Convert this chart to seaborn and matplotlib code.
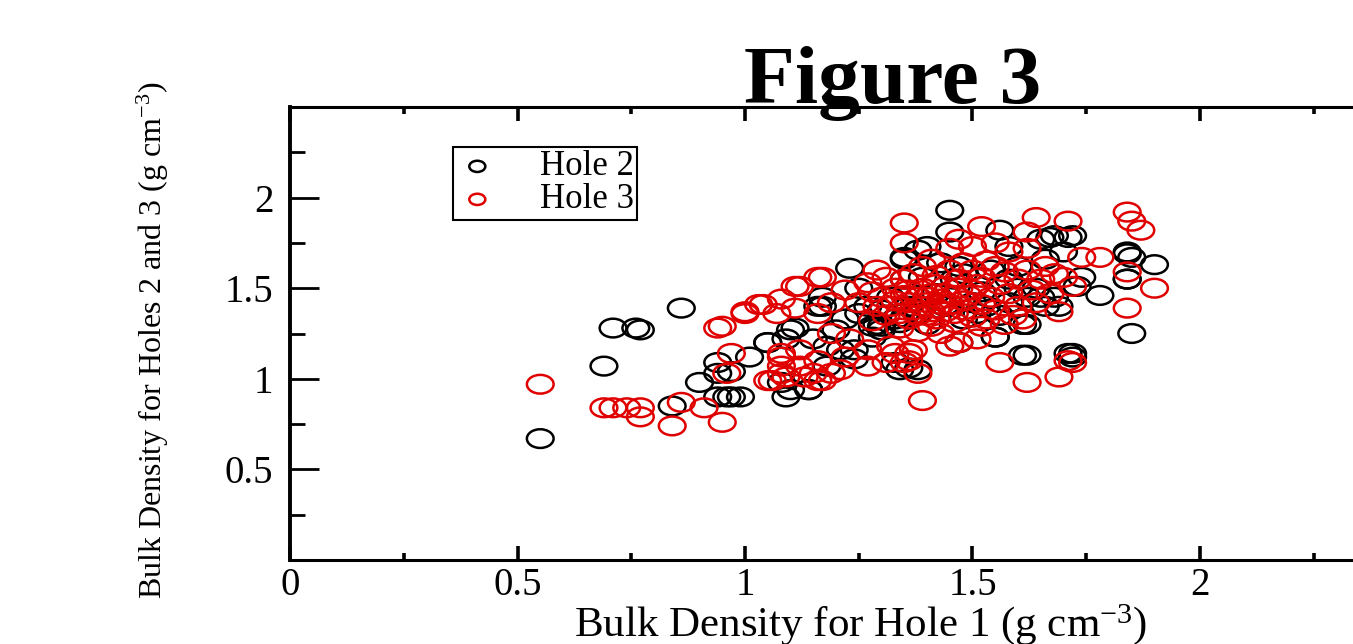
import numpy as np
import pandas as pd
import matplotlib
matplotlib.use("Agg")
import matplotlib.pyplot as plt
import seaborn as sns
from matplotlib.path import Path
from matplotlib.ticker import MultipleLocator, FixedLocator

# ---------------- data ----------------
hole2_x = [0.55, 0.69, 0.71, 0.76, 0.77, 0.86, 0.90, 0.94, 0.94, 0.97, 0.94, 0.96, 0.97, 0.84,
           1.05, 1.10, 1.09, 1.14, 1.17, 1.17, 1.23, 1.25, 1.30, 1.33, 1.35, 1.45, 1.45, 1.24, 1.34,
           1.56, 1.68, 1.72, 1.58, 1.40, 1.84, 1.85, 1.90, 1.84, 1.74, 1.78, 1.68, 1.69, 1.62, 1.85,
           1.55, 1.62, 1.72, 1.72, 1.36, 1.16, 1.22, 1.29, 1.28, 1.30, 1.28, 1.11, 1.09, 1.05, 1.01,
           1.08, 1.10, 1.14, 1.18, 1.21, 1.24, 1.33, 0.99, 1.35, 1.38, 1.65, 1.47, 1.65, 1.66, 1.61,
           1.55, 1.61, 1.35, 1.47, 1.38, 1.51, 1.58, 1.67, 1.71, 1.84, 1.84, 1.73, 1.71,
           1.32, 1.36, 1.38, 1.40, 1.42, 1.44, 1.46, 1.48, 1.50, 1.52, 1.54, 1.56, 1.58, 1.60, 1.62,
           1.35, 1.39, 1.30, 1.34, 1.43, 1.48, 1.53, 1.64, 1.66, 1.70, 1.60, 1.27, 1.25, 1.20, 1.15, 1.18]
hole2_y = [0.67, 1.07, 1.28, 1.28, 1.27, 1.39, 0.98, 1.09, 1.03, 1.04, 0.90, 0.90, 0.90, 0.85,
           1.20, 1.27, 0.90, 0.94, 1.45, 1.40, 1.61, 1.50, 1.29, 1.33, 1.67, 1.93, 1.81, 1.11, 1.05,
           1.82, 1.79, 1.79, 1.73, 1.73, 1.70, 1.67, 1.63, 1.55, 1.56, 1.46, 1.45, 1.40, 1.30, 1.25,
           1.23, 1.13, 1.14, 1.12, 1.06, 1.40, 1.33, 1.30, 1.29, 1.27, 1.23, 1.28, 1.22, 1.20, 1.12,
           0.98, 0.94, 0.94, 1.07, 1.16, 1.16, 1.09, 0.90, 1.66, 1.71, 1.77, 1.62, 1.45, 1.40, 1.30,
           1.23, 1.13, 1.34, 1.20, 1.05, 1.36, 1.42, 1.78, 1.78, 1.69, 1.55, 1.51, 1.14,
           1.45, 1.40, 1.36, 1.30, 1.47, 1.40, 1.55, 1.33, 1.42, 1.48, 1.60, 1.35, 1.55, 1.62, 1.45,
           1.55, 1.56, 1.38, 1.31, 1.64, 1.58, 1.40, 1.50, 1.66, 1.70, 1.50, 1.40, 1.36, 1.27, 1.22, 1.18]

hole3_x = [0.55, 0.69, 0.71, 0.74, 0.77, 0.77, 0.84, 0.86, 0.91, 0.95, 0.94, 0.95, 1.00, 1.04,
           1.11, 1.17, 1.35, 1.35, 1.29, 1.39, 0.97, 0.96, 1.08, 1.08, 1.09, 1.06, 1.12, 1.15, 1.17,
           1.19, 1.22, 1.27, 1.33, 1.35, 1.38,
           1.64, 1.71, 1.84, 1.85, 1.87, 1.52, 1.47, 1.50, 1.62, 1.78, 1.74, 1.84, 1.90, 1.72, 1.84,
           1.69, 1.56, 1.62, 1.69, 1.72, 1.51, 1.47, 1.36, 1.37, 1.45, 1.52, 1.71,
           1.16, 1.12, 1.08, 1.03, 1.00, 1.07, 1.11, 1.16, 1.19, 1.25, 1.27, 1.22, 1.31, 1.28, 1.36,
           1.08, 1.12, 1.16, 1.19, 1.23, 1.27, 1.32, 1.36, 1.31, 1.08, 1.13, 1.16, 1.21, 1.05,
           1.30, 1.32, 1.34, 1.36, 1.37, 1.38, 1.39, 1.40, 1.40, 1.41, 1.42, 1.42, 1.43, 1.44, 1.44,
           1.45, 1.46, 1.46, 1.47, 1.48, 1.48, 1.50, 1.50, 1.52, 1.52, 1.54, 1.55, 1.56, 1.58, 1.60,
           1.60, 1.62, 1.63, 1.65, 1.66, 1.68, 1.35, 1.33, 1.31, 1.29, 1.28, 1.34, 1.38, 1.41, 1.43,
           1.37, 1.39, 1.42, 1.41, 1.45, 1.48, 1.50, 1.53, 1.55, 1.57, 1.53, 1.57, 1.59, 1.61, 1.64,
           1.67, 1.70, 1.58, 1.62, 1.55, 1.45, 1.40, 1.43, 1.39, 1.36, 1.47, 1.44, 1.41, 1.38, 1.46,
           1.35, 1.33, 1.49, 1.51, 1.42]
hole3_y = [0.97, 0.84, 0.84, 0.84, 0.84, 0.79, 0.74, 0.87, 0.84, 0.76, 1.28, 1.29, 1.37, 1.41,
           1.51, 1.56, 1.86, 1.75, 1.60, 0.88, 1.14, 1.03, 1.14, 1.07, 1.01, 0.99, 1.07, 1.03, 0.99,
           1.03, 1.12, 1.07, 1.14, 1.09, 1.03,
           1.89, 1.87, 1.92, 1.87, 1.82, 1.84, 1.77, 1.73, 1.81, 1.67, 1.67, 1.59, 1.50, 1.51, 1.39,
           1.37, 1.09, 0.98, 1.01, 1.09, 1.22, 1.20, 1.10, 1.16, 1.18, 1.29, 1.10,
           1.56, 1.51, 1.44, 1.41, 1.36, 1.36, 1.39, 1.36, 1.42, 1.42, 1.53, 1.49, 1.56, 1.48, 1.49,
           1.12, 1.16, 1.10, 1.25, 1.22, 1.16, 1.18, 1.14, 1.09, 1.03, 1.01, 0.99, 1.05, 0.99,
           1.45, 1.40, 1.36, 1.42, 1.38, 1.45, 1.50, 1.35, 1.42, 1.47, 1.39, 1.33, 1.44, 1.51, 1.37,
           1.41, 1.46, 1.31, 1.55, 1.38, 1.43, 1.49, 1.34, 1.41, 1.56, 1.45, 1.38, 1.52, 1.47, 1.55,
           1.40, 1.60, 1.49, 1.55, 1.62, 1.58, 1.55, 1.50, 1.35, 1.40, 1.32, 1.28, 1.26, 1.29, 1.25,
           1.58, 1.62, 1.57, 1.66, 1.60, 1.64, 1.60, 1.65, 1.62, 1.59, 1.33, 1.30, 1.35, 1.33, 1.42,
           1.47, 1.56, 1.70, 1.72, 1.75, 1.72, 1.45, 1.41, 1.40, 1.33, 1.50, 1.47, 1.37, 1.35, 1.36,
           1.46, 1.43, 1.46, 1.52, 1.52]

series_names = ["Hole 2", "Hole 3"]
series_colors = ["#000000", "#e00000"]
x_ticks = [0, 0.5, 1, 1.5, 2]
x_tick_labels = ["0", "0.5", "1", "1.5", "2"]
y_ticks = [0.5, 1, 1.5, 2]
y_tick_labels = ["0.5", "1", "1.5", "2"]

df = pd.concat([
    pd.DataFrame({"x": hole2_x, "y": hole2_y, "hole": series_names[0]}),
    pd.DataFrame({"x": hole3_x, "y": hole3_y, "hole": series_names[1]}),
], ignore_index=True)

# ---------------- style ----------------
sns.set_theme(style="ticks")
plt.rcParams["font.family"] = ["Liberation Serif", "DejaVu Serif"]
plt.rcParams["mathtext.fontset"] = "custom"
plt.rcParams["mathtext.rm"] = "Liberation Serif"
plt.rcParams["mathtext.it"] = "Liberation Serif:italic"
for key in ["text.color", "axes.labelcolor", "xtick.color", "ytick.color",
            "xtick.labelcolor", "ytick.labelcolor", "axes.edgecolor"]:
    plt.rcParams[key] = "black"

# elliptical open marker
circ = Path.unit_circle()
ell = Path(circ.vertices * np.array([1.0, 0.70]), circ.codes)

fig = plt.figure(figsize=(13.53, 6.44), dpi=100)
ax = fig.add_axes([290 / 1353, 1 - 560 / 644, 1137.5 / 1353, 453 / 644])

for name, col in zip(series_names, series_colors):
    sub = df[df["hole"] == name]
    sns.scatterplot(data=sub, x="x", y="y", ax=ax, marker=ell, s=370,
                    color=col, edgecolor=col, facecolor="none", linewidth=1.8,
                    label=name, legend=False)

for coll, col in zip(ax.collections, series_colors):
    coll.set_facecolor("none")
    coll.set_edgecolor(col)

ax.set_xlim(0, 2.5)
ax.set_ylim(0, 2.5)
ax.xaxis.set_major_locator(FixedLocator(x_ticks))
ax.set_xticklabels(x_tick_labels)
ax.yaxis.set_major_locator(FixedLocator(y_ticks))
ax.set_yticklabels(y_tick_labels)
ax.xaxis.set_minor_locator(MultipleLocator(0.25))
ax.yaxis.set_minor_locator(MultipleLocator(0.25))

ax.tick_params(axis="x", which="major", direction="in", length=10, width=2.6,
               top=True, labeltop=False, labelsize=28, pad=5, color="black")
ax.tick_params(axis="x", which="minor", direction="in", length=5, width=2.6, top=True)
ax.tick_params(axis="y", which="major", direction="in", length=21, width=2.0,
               right=False, labelsize=28, pad=12, color="black")
ax.tick_params(axis="y", which="minor", direction="in", length=11, width=2.0, right=False)

for side in ["left", "bottom", "top"]:
    ax.spines[side].set_color("black")
ax.spines["left"].set_linewidth(2.8)
ax.spines["bottom"].set_linewidth(2.2)
ax.spines["top"].set_linewidth(2.2)
ax.spines["right"].set_visible(False)

ax.set_xlabel("Bulk Density for Hole 1 (g cm$^{-3}$)", fontsize=31)
ax.xaxis.set_label_coords(0.502, -0.092)
ax.set_ylabel("Bulk Density for Holes 2 and 3 (g cm$^{-3}$)", fontsize=23)
ax.yaxis.set_label_coords(-0.105, 0.485)

leg = ax.legend(loc="upper left", bbox_to_anchor=((453 - 290) / 1137.5, (560 - 147) / 453),
                fontsize=25, frameon=True, fancybox=False, framealpha=1,
                edgecolor="black", borderpad=0.1, labelspacing=0.0,
                handlelength=1.2, handletextpad=1.2, markerscale=0.6,
                borderaxespad=0)
leg.get_frame().set_linewidth(1.5)

fig.text(893 / 1353, 1 - 103 / 644, "Figure 3", fontsize=60, fontweight="bold",
         ha="center", va="baseline", color="black",
         family=["Liberation Serif", "DejaVu Serif"], zorder=10)

fig.savefig("out.png", dpi=100, facecolor="white")
